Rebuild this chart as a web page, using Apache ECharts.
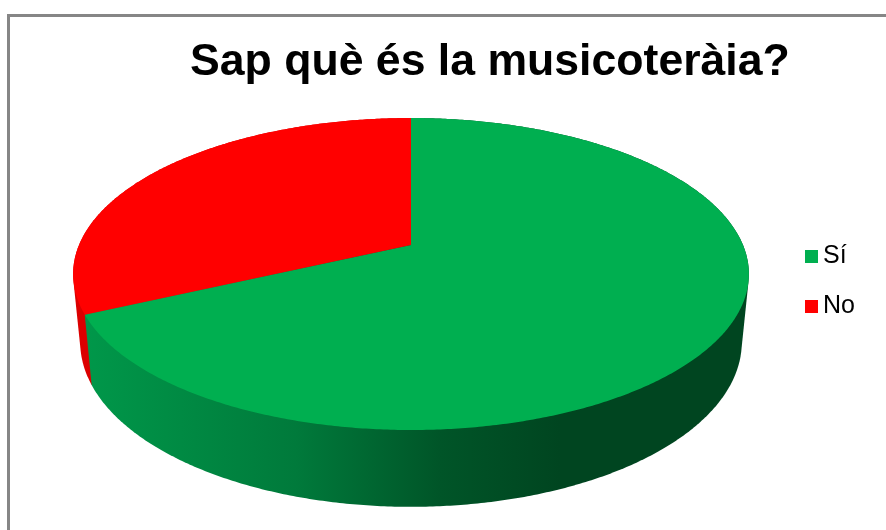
<!DOCTYPE html>
<html>
<head>
<meta charset="utf-8">
<style>html,body{margin:0;padding:0;background:#fff}#chart{width:886px;height:530px}</style>
<script src="https://cdn.jsdelivr.net/npm/echarts@6/dist/echarts.min.js"></script>
</head>
<body>
<div id="chart"></div>
<script>
// Answers to the survey question
const answers = ['Sí', 'No'];
const shares = [68, 32];
const topColors = ['#00AF50', '#FF0000'];
const wallColors = [
  {type: 'linear', global: true, x: 80, y: 0, x2: 560, y2: 0, colorStops: [
    {offset: 0, color: '#00984A'},
    {offset: 0.45, color: '#007A3B'},
    {offset: 0.75, color: '#005528'},
    {offset: 1, color: '#004520'}
  ]},
  '#DC0000'
];
const questionTitle = 'Sap què és la musicoteràia?';

// Perspective projection of the unit disc: the near edge is drawn larger
const tilt = 0.186;
const topRim = {cx: 411, cy: 245, sx: 332, sy: 150.6};
const baseRim = {cx: 411, cy: 311.5, sx: 325, sy: 159};
function project(rim, turn) {
  const a = turn * 2 * Math.PI;
  const X = Math.sin(a), Y = -Math.cos(a);
  const w = 1 - tilt * Y;
  return [rim.cx + rim.sx * X / w, rim.cy + rim.sy * Y / w];
}
function rimPoints(rim, from, to) {
  const n = Math.max(2, Math.ceil((to - from) * 720));
  const pts = [];
  for (let i = 0; i <= n; i++) pts.push(project(rim, from + (to - from) * i / n));
  return pts;
}

// Outline of a slice's extruded body; the top faces are painted over its upper part
function convexHull(points) {
  const p = points.slice().sort((a, b) => a[0] - b[0] || a[1] - b[1]);
  const cross = (o, a, b) => (a[0] - o[0]) * (b[1] - o[1]) - (a[1] - o[1]) * (b[0] - o[0]);
  const half = list => {
    const h = [];
    for (const q of list) {
      while (h.length >= 2 && cross(h[h.length - 2], h[h.length - 1], q) <= 0) h.pop();
      h.push(q);
    }
    h.pop();
    return h;
  };
  return half(p).concat(half(p.slice().reverse()));
}

// Slices run clockwise from twelve o'clock
const total = shares.reduce((s, v) => s + v, 0);
function sliceRange(index) {
  let from = 0;
  for (let i = 0; i < index; i++) from += shares[i];
  return [from / total, (from + shares[index]) / total];
}
function renderWall(index) {
  return function () {
    const [from, to] = sliceRange(index);
    const pts = convexHull(rimPoints(topRim, from, to).concat(rimPoints(baseRim, from, to)));
    return {type: 'polygon', shape: {points: pts}, style: {fill: wallColors[index], stroke: null}};
  };
}
function renderTop(index) {
  return function () {
    const [from, to] = sliceRange(index);
    const pts = [[topRim.cx, topRim.cy]].concat(rimPoints(topRim, from, to));
    return {type: 'polygon', shape: {points: pts}, style: {fill: topColors[index], stroke: null}};
  };
}

// The red wall goes first so the green wall's cut edge overlaps it
const wallSeries = answers.map((a, i) => i).reverse().map(i => ({
  type: 'custom', name: answers[i] + ' wall', coordinateSystem: 'none', silent: true, z: 1,
  data: [shares[i]], renderItem: renderWall(i)
}));
const topSeries = answers.map((a, i) => ({
  type: 'custom', name: a, coordinateSystem: 'none', silent: true, z: 2,
  itemStyle: {color: topColors[i]},
  data: [shares[i]], renderItem: renderTop(i)
}));

const chart = echarts.init(document.getElementById('chart'), null, {renderer: 'canvas'});
chart.setOption({
  animation: false,
  backgroundColor: '#fff',
  title: {
    text: questionTitle, left: 185, top: 35,
    textStyle: {fontFamily: 'Liberation Sans', fontWeight: 'bold', fontSize: 44.6, color: '#000'}
  },
  legend: {
    data: answers, orient: 'vertical', left: 805, top: 244, itemWidth: 13, itemHeight: 13,
    itemGap: 25, icon: 'rect', selectedMode: false, padding: 0,
    textStyle: {fontFamily: 'Liberation Sans', fontSize: 25, color: '#000', padding: [0, 0, 0, 0]}
  },
  graphic: [{
    type: 'polyline', silent: true,
    shape: {points: [[8.5, 530], [8.5, 15.5], [886, 15.5]]},
    style: {stroke: '#868686', lineWidth: 3, fill: null}
  }],
  series: wallSeries.concat(topSeries)
});
</script>
</body>
</html>
